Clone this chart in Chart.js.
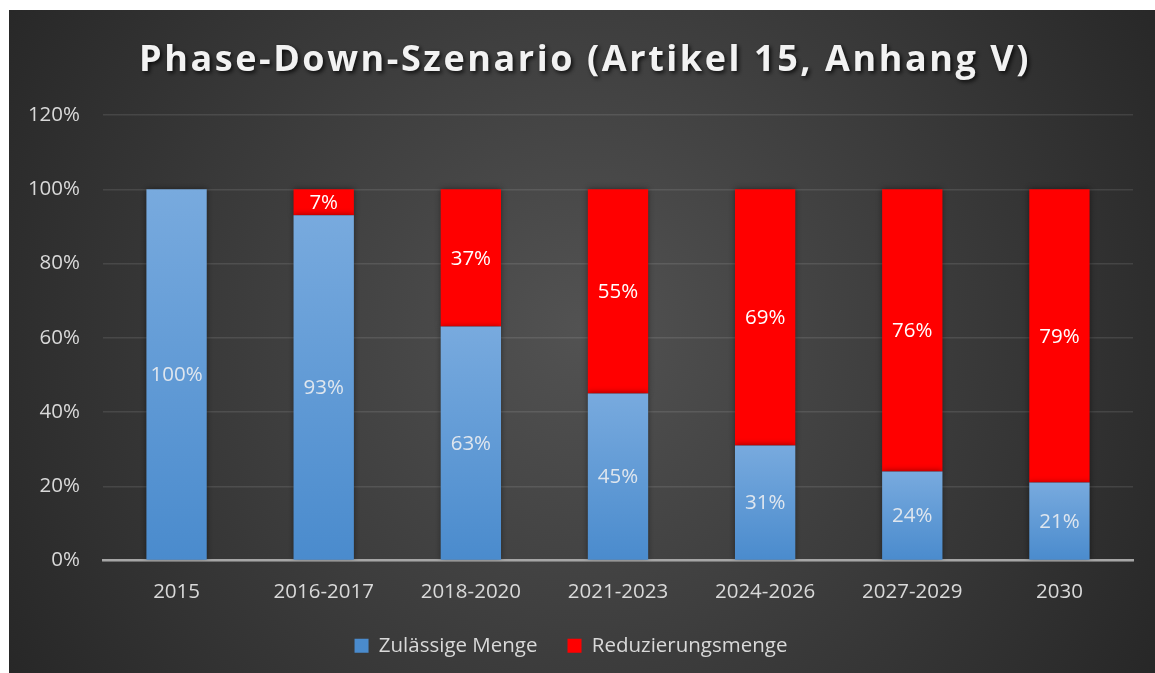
<!DOCTYPE html>
<html lang="de">
<head>
<meta charset="utf-8">
<title>Phase-Down-Szenario</title>
<script src="https://cdn.jsdelivr.net/npm/chart.js@4/dist/chart.umd.min.js"></script>
<style>
    body { margin: 0; background: #ffffff; }
    #rahmen { position: absolute; left: 9px; top: 10px; width: 1146px; height: 663px; }
</style>
</head>
<body>
<div id="rahmen"><canvas id="graficoPhaseDown"></canvas></div>
<script>
// Daten aus dem Diagramm (Prozent)
const zeitraeume = ['2015', '2016-2017', '2018-2020', '2021-2023', '2024-2026', '2027-2029', '2030'];
const zulaessigeMenge = [100, 93, 63, 45, 31, 24, 21];
const reduzierungsmenge = [0, 7, 37, 55, 69, 76, 79];
const yTicks = [0, 20, 40, 60, 80, 100, 120];

const titelText = 'Phase-Down-Szenario (Artikel 15, Anhang V)';
const schrift = '"Open Sans", "DejaVu Sans", sans-serif';
const textGroesse = 20.5;

// Hintergrund (radialer Verlauf) + Titel mit Schatten
const hintergrundPlugin = {
    id: 'hintergrund',
    beforeDraw(chart) {
        const ctx = chart.ctx;
        const w = chart.width, h = chart.height;
        ctx.save();
        const g = ctx.createRadialGradient(w * 0.5, h * 0.48, 0, w * 0.5, h * 0.48, w * 0.6);
        g.addColorStop(0, '#525252');
        g.addColorStop(1, '#262626');
        ctx.fillStyle = g;
        ctx.fillRect(0, 0, w, h);

        ctx.font = 'bold 36px ' + schrift;
        ctx.textAlign = 'center';
        ctx.textBaseline = 'middle';
        // Buchstabenabstand so, dass der Titel etwa 892px breit ist
        const breite = ctx.measureText(titelText).width;
        ctx.letterSpacing = Math.max(0, (892 - breite) / titelText.length) + 'px';
        ctx.shadowColor = 'rgba(0, 0, 0, 0.8)';
        ctx.shadowBlur = 4;
        ctx.shadowOffsetX = 2;
        ctx.shadowOffsetY = 2;
        ctx.fillStyle = '#f2f2f2';
        ctx.fillText(titelText, w / 2 + 3, 51);
        ctx.restore();
    }
};

// Leichter Schatten um die Balken
const schattenPlugin = {
    id: 'balkenSchatten',
    beforeDatasetsDraw(chart) {
        chart.ctx.save();
        chart.ctx.shadowColor = 'rgba(0, 0, 0, 0.45)';
        chart.ctx.shadowBlur = 6;
    },
    afterDatasetsDraw(chart) {
        chart.ctx.restore();
    }
};

// Wertbeschriftungen in der Mitte der Segmente
const beschriftungPlugin = {
    id: 'werte',
    afterDatasetsDraw(chart) {
        const ctx = chart.ctx;
        ctx.save();
        ctx.font = textGroesse + 'px ' + schrift;
        ctx.textAlign = 'center';
        ctx.textBaseline = 'middle';
        chart.data.datasets.forEach((ds, di) => {
            const meta = chart.getDatasetMeta(di);
            meta.data.forEach((bar, i) => {
                const wert = ds.data[i];
                if (!wert) return;
                ctx.fillStyle = di === 0 ? '#dfe6ee' : '#ffffff';
                ctx.fillText(wert + '%', bar.x, (bar.y + bar.base) / 2 + 1);
            });
        });
        ctx.restore();
    }
};

function blauVerlauf(context) {
    const chart = context.chart;
    const y = chart.scales.y;
    if (!y || context.dataIndex === undefined) return '#5b9bd5';
    const oben = y.getPixelForValue(zulaessigeMenge[context.dataIndex]);
    const unten = y.getPixelForValue(0);
    if (!isFinite(oben) || !isFinite(unten) || oben === unten) return '#5b9bd5';
    const g = chart.ctx.createLinearGradient(0, oben, 0, unten);
    g.addColorStop(0, '#78aade');
    g.addColorStop(1, '#4a8bcd');
    return g;
}

const ctx = document.getElementById('graficoPhaseDown').getContext('2d');

new Chart(ctx, {
    type: 'bar',
    data: {
        labels: zeitraeume,
        datasets: [{
            label: 'Zulässige Menge',
            data: zulaessigeMenge,
            backgroundColor: blauVerlauf,
            borderWidth: 0,
            barPercentage: 1,
            categoryPercentage: 0.41
        }, {
            label: 'Reduzierungsmenge',
            data: reduzierungsmenge,
            backgroundColor: '#ff0000',
            borderWidth: 0,
            barPercentage: 1,
            categoryPercentage: 0.41
        }]
    },
    options: {
        responsive: true,
        maintainAspectRatio: false,
        animation: false,
        layout: {
            padding: { top: 105, right: 22, bottom: 7, left: 0 }
        },
        scales: {
            x: {
                stacked: true,
                z: 1,
                grid: { display: false, drawTicks: false },
                border: { display: true, color: '#a6a6a6', width: 2.5 },
                ticks: {
                    color: '#d9d9d9',
                    font: { family: schrift, size: textGroesse },
                    padding: 19
                },
                afterFit(scale) { scale.height = 45; }
            },
            y: {
                stacked: true,
                min: 0,
                max: 120,
                afterBuildTicks(scale) {
                    scale.ticks = yTicks.map(v => ({ value: v }));
                },
                grid: {
                    color: 'rgba(255, 255, 255, 0.1)',
                    lineWidth: 1.5,
                    drawTicks: false
                },
                border: { display: false },
                ticks: {
                    color: '#d9d9d9',
                    font: { family: schrift, size: textGroesse },
                    padding: 23,
                    callback: v => v + '%'
                },
                afterFit(scale) { scale.width = 94; }
            }
        },
        plugins: {
            title: { display: false },
            tooltip: { enabled: false },
            legend: {
                position: 'bottom',
                labels: {
                    color: '#d9d9d9',
                    font: { family: schrift, size: textGroesse },
                    boxWidth: 14,
                    boxHeight: 14,
                    padding: 30
                }
            }
        }
    },
    plugins: [hintergrundPlugin, schattenPlugin, beschriftungPlugin]
});
</script>
</body>
</html>
